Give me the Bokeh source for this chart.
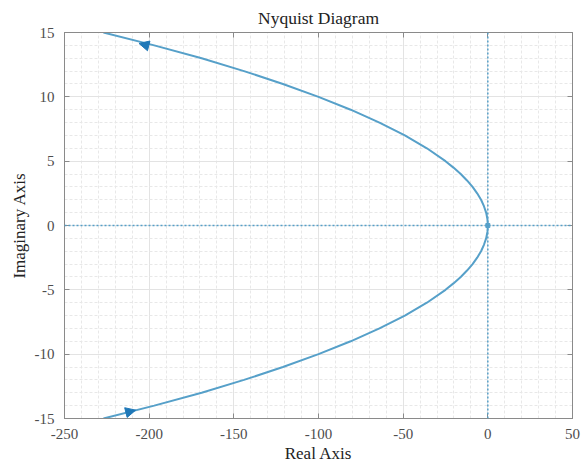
from bokeh.plotting import figure
from bokeh.models import (Span, LinearAxis, SingleIntervalTicker, Range1d, Arrow,
                          NormalHead, ColumnDataSource, CustomJSTickFormatter)
from bokeh.embed import file_html
from bokeh.resources import INLINE

# Curve (imag part, real part)
imag_vals = [15, 14, 13, 12, 11, 10, 9, 8, 7, 6, 5, 4.5, 4, 3.5, 3, 2.5, 2, 1.5, 1, 0.5, 0,
             -0.5, -1, -1.5, -2, -2.5, -3, -3.5, -4, -4.5, -5, -6, -7, -8, -9, -10, -11, -12, -13, -14, -15]
real_vals = [-227, -197, -169, -144, -121, -100, -81, -64, -49, -36, -25, -20.3, -16, -12.3, -9, -6.3, -4, -2.3, -1, -0.25, 0,
             -0.25, -1, -2.3, -4, -6.3, -9, -12.3, -16, -20.3, -25, -36, -49, -64, -81, -100, -121, -144, -169, -197, -227]

# Arrow heads (start -> end along curve direction)
arrow_x0 = [-200, -214]
arrow_y0 = [13.95, -14.55]
arrow_x1 = [-206, -208]
arrow_y1 = [14.15, -14.35]

x_ticks = [-250, -200, -150, -100, -50, 0, 50]
x_tick_labels = ["-250", "-200", "-150", "-100", "-50", "0", "50"]
y_ticks = [-15, -10, -5, 0, 5, 10, 15]
y_tick_labels = ["-15", "-10", "-5", "0", "5", "10", "15"]

serif = "Liberation Serif"
curve_color = "#56a0c9"
head_color = "#1f78b8"
axis_gray = "#8a8a8a"

p = figure(width=584, height=465, output_backend="svg", toolbar_location=None,
           x_range=Range1d(-250, 50), y_range=Range1d(-15, 15),
           title="Nyquist Diagram",
           min_border_left=64, min_border_right=12, min_border_top=32, min_border_bottom=46)
p.title.align = "center"
p.title.text_font = serif
p.title.text_font_size = "17.5px"
p.title.text_font_style = "normal"
p.title.text_color = "#222222"
p.title.standoff = 2
p.title.offset = 0
p.outline_line_color = axis_gray

xt = SingleIntervalTicker(interval=50, num_minor_ticks=5)
yt = SingleIntervalTicker(interval=5, num_minor_ticks=5)
xaxis = p.xaxis[0]
yaxis = p.yaxis[0]
xaxis.ticker = xt
yaxis.ticker = yt
xaxis.axis_label = "Real Axis"
yaxis.axis_label = "Imaginary Axis"

code = "const k = String(tick); return (k in labels) ? labels[k] : k;"
xaxis.formatter = CustomJSTickFormatter(
    args=dict(labels={str(t): s for t, s in zip(x_ticks, x_tick_labels)}), code=code)
yaxis.formatter = CustomJSTickFormatter(
    args=dict(labels={str(t): s for t, s in zip(y_ticks, y_tick_labels)}), code=code)

for ax in [xaxis, yaxis]:
    ax.axis_label_text_font = serif
    ax.axis_label_text_font_size = "17px"
    ax.axis_label_text_font_style = "normal"
    ax.axis_label_text_color = "#222222"
    ax.major_label_text_font = serif
    ax.major_label_text_font_size = "15px"
    ax.major_label_text_font_style = "normal"
    ax.major_label_text_color = "#4d4d4d"
    ax.axis_line_color = axis_gray
    ax.major_tick_line_color = axis_gray
    ax.major_tick_in = 5
    ax.major_tick_out = 0
    ax.minor_tick_line_color = None
    ax.major_label_standoff = 6
xaxis.axis_label_standoff = 2
yaxis.axis_label_standoff = 3

for loc, tk in [("above", xt), ("right", yt)]:
    a = LinearAxis(ticker=tk, axis_line_color=axis_gray, major_tick_line_color=axis_gray,
                   major_tick_in=5, major_tick_out=0, minor_tick_line_color=None,
                   major_label_text_font_size="0px", major_label_standoff=0)
    a.major_label_overrides = {t: "" for t in (x_ticks if loc == "above" else y_ticks)}
    p.add_layout(a, loc)

for g in [p.xgrid[0], p.ygrid[0]]:
    g.grid_line_color = "#e3e3e3"
    g.grid_line_width = 1
    g.minor_grid_line_color = "#e8e8e8"
    g.minor_grid_line_dash = "3 2"
    g.minor_grid_line_width = 1

p.add_layout(Span(location=0, dimension="height", line_color=curve_color,
                  line_dash="2 2", line_width=1.5))
p.add_layout(Span(location=0, dimension="width", line_color=curve_color,
                  line_dash="2 2", line_width=1.5))

src = ColumnDataSource(dict(x=real_vals, y=imag_vals))
p.line("x", "y", source=src, line_color=curve_color, line_width=2)

for i in range(len(arrow_x0)):
    p.add_layout(Arrow(end=NormalHead(size=10, fill_color=head_color, line_color=head_color),
                       x_start=arrow_x0[i], y_start=arrow_y0[i],
                       x_end=arrow_x1[i], y_end=arrow_y1[i], line_alpha=0))

p.scatter([0], [0], marker="square", size=4, fill_color=curve_color, line_color=curve_color)

open("out.html", "w").write(file_html(p, INLINE))
